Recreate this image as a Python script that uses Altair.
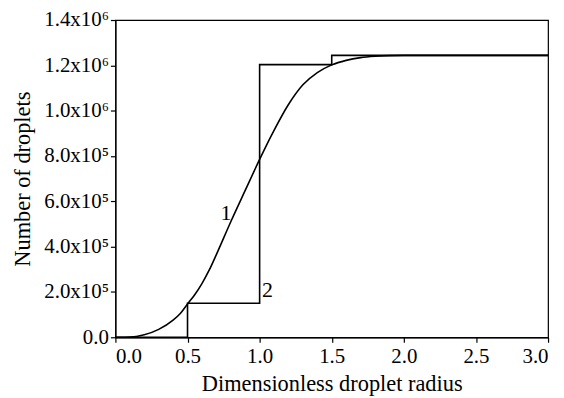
import altair as alt
import pandas as pd

# Curve 1 (smooth)
c1_x = [0.0, 0.1, 0.2, 0.3, 0.4, 0.45, 0.5, 0.55, 0.6, 0.65, 0.7, 0.8, 0.9, 1.0,
        1.1, 1.2, 1.3, 1.4, 1.5, 1.6, 1.7, 1.8, 1.9, 2.0, 2.2, 2.5, 3.0]
c1_y = [0, 5e2, 1.1e4, 3.5e4, 7.6e4, 1.05e5, 1.47e5, 1.88e5, 2.37e5, 2.96e5, 3.65e5,
        5.1e5, 6.48e5, 7.85e5, 9.13e5, 1.027e6, 1.114e6, 1.168e6, 1.202e6, 1.222e6,
        1.234e6, 1.240e6, 1.243e6, 1.244e6, 1.244e6, 1.244e6, 1.244e6]

# Curve 2 (step)
c2_x = [0.0, 0.5, 1.0, 1.5, 3.0]
c2_y = [0, 1.5e5, 1.203e6, 1.244e6, 1.244e6]

# Curve labels
lab_text = ["1", "2"]
lab_x = [0.766, 1.055]
lab_y = [5.5e5, 2.07e5]

y_ticks = [0, 2e5, 4e5, 6e5, 8e5, 1e6, 1.2e6, 1.4e6]
x_ticks = [0.0, 0.5, 1.0, 1.5, 2.0, 2.5, 3.0]

FONT = "Liberation Serif, Times New Roman, serif"

df1 = pd.DataFrame({"x": c1_x, "y": c1_y})
df2 = pd.DataFrame({"x": c2_x, "y": c2_y})
dfl = pd.DataFrame({"t": lab_text, "x": lab_x, "y": lab_y})

xscale = alt.Scale(domain=[0, 3], nice=False, zero=False)
yscale = alt.Scale(domain=[0, 1.4e6], nice=False)

xaxis = alt.Axis(values=x_ticks, format=".1f", title="Dimensionless droplet radius",
                 grid=False, tickSize=5, labelPadding=3.5, titlePadding=6)
yaxis = alt.Axis(values=y_ticks, title="Number of droplets", grid=False, tickSize=5,
                 labelPadding=2, titlePadding=9,
                 labelExpr="datum.value == 0 ? '0.0' : (datum.value >= 1000000 ? "
                           "format(datum.value/1000000, '.1f') + 'x10\u2076' : "
                           "format(datum.value/100000, '.1f') + 'x10\u2075')")

line1 = alt.Chart(df1).mark_line(color="black", strokeWidth=1.6, interpolate="monotone").encode(
    x=alt.X("x:Q", scale=xscale, axis=xaxis),
    y=alt.Y("y:Q", scale=yscale, axis=yaxis),
)
line2 = alt.Chart(df2).mark_line(color="black", strokeWidth=1.6, interpolate="step-after").encode(
    x=alt.X("x:Q", scale=xscale),
    y=alt.Y("y:Q", scale=yscale),
)
labels = alt.Chart(dfl).mark_text(font=FONT, fontSize=22, color="black",
                                  align="center", baseline="middle").encode(
    x=alt.X("x:Q", scale=xscale),
    y=alt.Y("y:Q", scale=yscale),
    text="t:N",
)

chart = (line1 + line2 + labels).properties(
    width=435, height=319,
    autosize=alt.AutoSizeParams(type="none"),
    padding={"left": 108, "top": 11, "right": 8, "bottom": 66},
    background="white",
).configure_view(stroke="black", strokeWidth=1.2).configure_axis(
    labelFont=FONT, titleFont=FONT, labelFontSize=21, titleFontSize=22.5,
    labelColor="black", titleColor="black", domainColor="black", tickColor="black",
    titleFontWeight="normal", domainWidth=1.2, tickWidth=1.2,
)

chart.save("out.html", embed_options={"renderer": "svg", "actions": False})
